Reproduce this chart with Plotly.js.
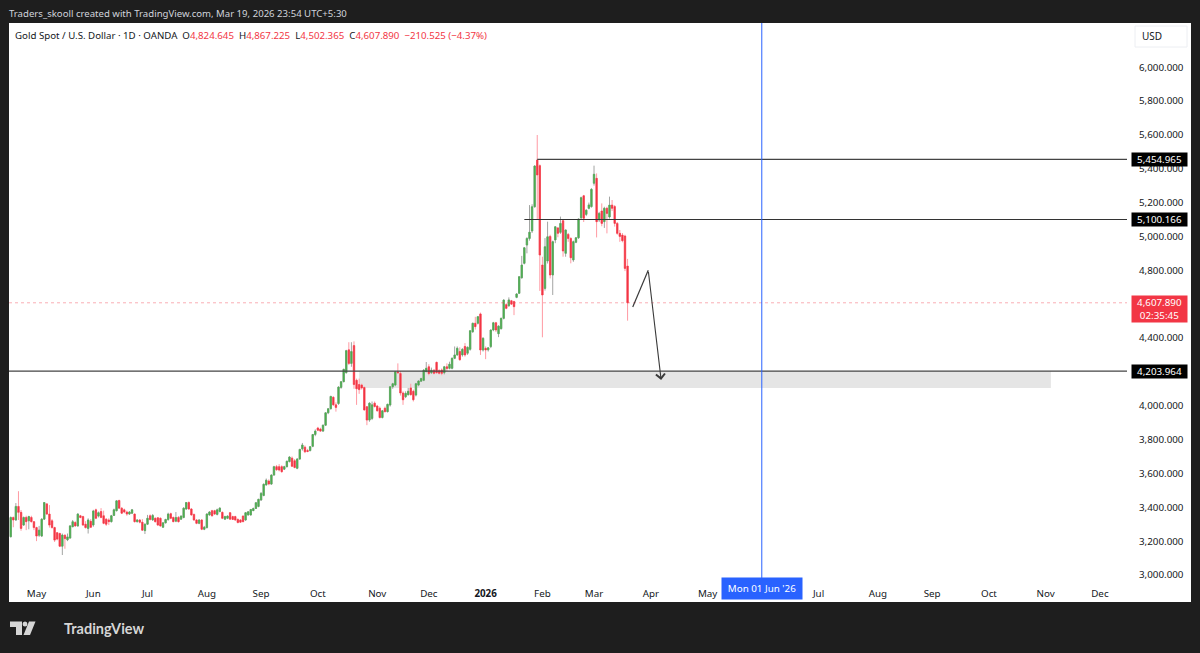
<!DOCTYPE html>
<html>
<head>
<meta charset="utf-8">
<script src="https://cdn.plot.ly/plotly-3.0.1.min.js"></script>
<style>html,body{margin:0;padding:0;background:#1e1e1e}</style>
</head>
<body>
<div id="chart" style="width:1200px;height:653px"></div>
<script>
const lastDate = '2026-03-19';
const holidays = ['2025-12-25'];
const opens = [3226,3340,3325,3405,3370,3295,3340,3320,3340,3315,3280,3235,3230,3330,3420,3360,3320,3280,3250,3245,
3170,3235,3208,3218,3285,3310,3290,3350,3345,3300,3275,3317,3295,3385,3348,3375,3350,3330,3325,3315,
3352,3380,3440,3395,3385,3372,3360,3365,3360,3315,3325,3312,3262,3300,3350,3325,3335,3338,3335,3282,
3308,3328,3362,3340,3318,3340,3330,3340,3390,3428,3390,3358,3325,3305,3325,3270,3280,3355,3380,3380,
3358,3375,3370,3330,3335,3368,3345,3345,3328,3325,3348,3325,3355,3355,3380,3393,3405,3443,3470,3532,
3555,3537,3590,3640,3640,3640,3625,3640,3670,3690,3675,3630,3685,3745,3755,3735,3735,3760,3830,3868,
3862,3850,3885,3958,3982,4050,4005,4013,4108,4142,4195,4330,4250,4355,4150,4125,4122,4108,3994,3915,
3925,4015,3998,3985,3930,3985,3965,4004,4112,4122,4200,4190,4075,4053,4065,4105,4085,4063,4122,4145,
4150,4201,4230,4195,4210,4256,4207,4211,4195,4230,4221,4221,4280,4300,4320,4300,4350,4310,4333,4437,
4487,4487,4542,4329,4339,4330,4349,4447,4490,4425,4455,4516,4597,4590,4620,4615,4640,4664,4756,4841,
4949,4988,5032,5175,5451,5418,4831,4693,4855,5000,4772,4979,5050,5024,5093,4900,5012,4988,4861,4965,
4992,5110,5240,5130,5166,5176,5314,5343,5097,5150,5087,5166,5115,5185,5176,5077,5018,5008,5002,4824.645];
const highs = [3345,3345,3425,3495,3384,3345,3350,3350,3350,3318,3285,3290,3335,3430,3425,3413,3330,3285,3253,3250,
3245,3240,3245,3295,3325,3318,3365,3355,3350,3318,3335,3330,3385,3392,3375,3395,3380,3335,3335,3355,
3392,3440,3445,3400,3392,3380,3378,3390,3362,3330,3330,3330,3305,3355,3358,3360,3340,3340,3340,3312,
3332,3368,3368,3345,3372,3348,3352,3400,3430,3435,3395,3362,3330,3330,3330,3290,3365,3378,3385,3385,
3392,3400,3375,3350,3352,3372,3350,3350,3335,3330,3352,3372,3378,3390,3398,3430,3450,3490,3540,3570,
3565,3595,3645,3650,3655,3648,3645,3675,3702,3700,3685,3690,3745,3780,3765,3745,3762,3832,3860,3875,
3870,3888,3960,3985,4058,4055,4020,4115,4145,4218,4330,4375,4375,4380,4160,4160,4130,4112,3998,4020,
4025,4025,4005,3995,3975,3995,4012,4115,4135,4205,4250,4205,4085,4085,4105,4130,4095,4135,4150,4165,
4215,4258,4245,4225,4215,4260,4215,4220,4235,4250,4260,4285,4350,4350,4345,4340,4370,4350,4445,4490,
4525,4530,4550,4405,4350,4345,4450,4495,4495,4475,4520,4628,4605,4640,4625,4620,4665,4765,4885,4935,
4995,5185,5190,5420,5599,5425,4880,4990,5087,5010,4975,5060,5055,5117,5100,5040,5020,4995,4975,4995,
5105,5235,5245,5160,5200,5285,5418,5372,5145,5195,5175,5175,5235,5215,5185,5085,5038,5020,5010,4867.225];
const lows = [3222,3282,3320,3325,3261,3290,3265,3270,3310,3265,3200,3225,3225,3325,3355,3280,3275,3195,3205,3165,
3118,3155,3200,3215,3283,3285,3285,3335,3290,3275,3245,3278,3285,3330,3340,3335,3300,3290,3295,3310,
3350,3375,3392,3360,3365,3350,3355,3360,3310,3310,3305,3260,3242,3295,3322,3320,3310,3290,3285,3278,
3305,3320,3330,3312,3312,3310,3325,3335,3385,3385,3350,3320,3300,3300,3265,3265,3275,3350,3345,3355,
3352,3370,3330,3325,3330,3325,3325,3320,3305,3308,3312,3320,3350,3350,3378,3390,3400,3438,3465,3528,
3530,3532,3588,3615,3612,3605,3620,3635,3665,3640,3630,3625,3680,3735,3720,3725,3730,3755,3820,3850,
3845,3845,3880,3950,3978,4000,3965,4005,4100,4138,4190,4240,4230,4100,4005,4070,4095,3972,3885,3905,
3915,3990,3965,3925,3925,3960,3960,3995,4100,4115,4190,4060,4005,4045,4060,4060,4025,4055,4115,4140,
4145,4205,4180,4188,4185,4190,4185,4180,4185,4205,4215,4215,4275,4295,4265,4290,4290,4300,4325,4430,
4450,4480,4300,4320,4275,4320,4340,4440,4435,4405,4450,4510,4570,4585,4598,4535,4635,4660,4750,4835,
4900,4975,5020,5170,5097,4678,4404,4680,4840,4752,4654,4960,4995,5015,4880,4880,4968,4841,4850,4960,
4985,5100,5085,5120,5160,5170,5300,4994,5085,5060,5050,5018,5105,5150,5058,5010,4968,4965,4795,4502.365];
const closes = [3340,3325,3405,3370,3275,3340,3315,3345,3315,3280,3230,3265,3330,3428,3360,3295,3280,3206,3212,3170,
3236,3215,3225,3290,3315,3290,3360,3340,3295,3280,3325,3282,3378,3335,3368,3340,3305,3300,3315,3350,
3385,3438,3395,3365,3372,3360,3372,3385,3315,3325,3312,3265,3300,3335,3328,3352,3315,3295,3290,3308,
3328,3360,3335,3315,3340,3315,3348,3395,3428,3390,3355,3325,3305,3325,3270,3282,3360,3372,3350,3360,
3385,3395,3335,3345,3348,3330,3328,3325,3310,3312,3315,3368,3373,3387,3393,3427,3447,3482,3536,3560,
3538,3590,3640,3622,3620,3610,3640,3672,3697,3642,3635,3685,3742,3768,3728,3730,3758,3830,3850,3855,
3850,3885,3958,3982,4055,4005,3990,4110,4142,4215,4325,4250,4320,4125,4100,4095,4105,3975,3915,4015,
4005,3995,3970,3930,3970,3965,4008,4112,4130,4200,4195,4075,4035,4073,4085,4065,4035,4130,4146,4160,
4210,4221,4190,4210,4191,4195,4191,4191,4230,4220,4245,4280,4300,4339,4272,4333,4300,4345,4443,4487,
4467,4526,4329,4398,4329,4342,4447,4490,4447,4470,4516,4624,4575,4625,4600,4585,4660,4762,4831,4933,
4988,5025,5175,5416,5363,4890,4654,4939,4998,4772,4969,5057,5018,5077,4914,5038,4988,4874,4969,4992,
5103,5229,5107,5155,5186,5278,5367,5087,5136,5077,5166,5136,5185,5166,5077,5018,5000,4975,4811,4607.89];
const monthTicks = ['2025-05-01','2025-06-02','2025-07-01','2025-08-01','2025-09-01','2025-10-01','2025-11-03','2025-12-01','2026-01-01','2026-02-02','2026-03-02','2026-04-01','2026-05-01','2026-07-01','2026-08-03','2026-09-01','2026-10-01','2026-11-02','2026-12-01'];
const monthLabels = ['May','Jun','Jul','Aug','Sep','Oct','Nov','Dec','<b>2026</b>','Feb','Mar','Apr','May','Jul','Aug','Sep','Oct','Nov','Dec'];
const priceTicks = [3000,3200,3400,3600,3800,4000,4400,4800,5000,5200,5400,5600,5800,6000];
const levelHigh = 5454.965, levelMid = 5100.166, levelLow = 4203.964, lastPrice = 4607.89;
const cursorDate = '2026-06-01';

// trading days, counted back from the last bar (weekends and the Christmas holiday removed)
const dates = [];
for (let d = new Date(lastDate + 'T00:00:00Z'); dates.length < closes.length; d.setUTCDate(d.getUTCDate() - 1)) {
  const iso = d.toISOString().slice(0, 10), wd = d.getUTCDay();
  if (wd !== 0 && wd !== 6 && !holidays.includes(iso)) dates.unshift(iso);
}

const W = 1200, H = 653, L = 9, R = 1127, T = 23, B = 602;
const px = x => (x - L) / (R - L);
const py = y => 1 - (y - T) / (B - T);
const GREEN = '#4caf50', RED = '#f23645', BLUE = '#2962ff', INK = '#131722';

function wicks() {
  return { type:'candlestick', x:dates, open:opens, high:highs, low:lows, close:closes, whiskerwidth:0,
    increasing:{line:{color:'#a3a5a3',width:1},fillcolor:'#a3a5a3'},
    decreasing:{line:{color:'#ff9aa3',width:1},fillcolor:'#ff9aa3'}, hoverinfo:'skip', showlegend:false };
}
function bodies() {
  const top = opens.map((o,i)=>Math.max(o,closes[i])), bot = opens.map((o,i)=>Math.min(o,closes[i]));
  return { type:'candlestick', x:dates, open:opens, high:top, low:bot, close:closes, whiskerwidth:0,
    increasing:{line:{color:GREEN,width:0.5},fillcolor:GREEN},
    decreasing:{line:{color:RED,width:0.5},fillcolor:RED}, showlegend:false };
}

function paperRect(x0,y0,x1,y1,fill,extra) {
  return Object.assign({type:'rect',xref:'paper',yref:'paper',x0:px(x0),x1:px(x1),y0:py(y0),y1:py(y1),fillcolor:fill,line:{width:0},layer:'below'},extra||{});
}
function paperPath(pts,fill) {
  const d = pts.map((p,i)=>(i?'L':'M')+px(p[0])+','+py(p[1])).join(' ')+' Z';
  return {type:'path',xref:'paper',yref:'paper',path:d,fillcolor:fill,line:{width:0},layer:'below'};
}
function hline(x0,x1,y,color,width,dash) {
  return {type:'line',xref:'x',yref:'y',x0:x0,x1:x1,y0:y,y1:y,line:{color:color,width:width,dash:dash||'solid'}};
}
function priceTag(y,text) {
  return {xref:'paper',yref:'y',x:px(1159.5),y:y,text:text,showarrow:false,xanchor:'center',yanchor:'middle',
    bgcolor:'#000000',width:55,height:13,borderpad:0,font:{family:FONT,size:9.8,color:'#ffffff'}};
}
const FONT = '"Noto Sans", "DejaVu Sans", sans-serif';
const rightEdge = '2026-12-15 12:00', leftEdge = '2025-04-16 08:00';
const r = s => '<span style="color:'+RED+'">'+s+'</span>';
const gap = '&nbsp;&nbsp;';

const shapes = [
  paperRect(9,23,1191,602,'#ffffff'),
  paperRect(1135,26,1187,47,'#ffffff',{line:{color:'#eceef2',width:1}}),
  paperPath([[10,621.5],[22,621.5],[22,635],[16,635],[16,627],[10,627]],'#d6d6d6'),
  {type:'circle',xref:'paper',yref:'paper',x0:px(22.6),x1:px(27.4),y0:py(621.5),y1:py(626.5),fillcolor:'#d6d6d6',line:{width:0},layer:'below'},
  paperPath([[29,621.5],[35.5,621.5],[30,635],[23.5,635]],'#d6d6d6'),
  {type:'rect',xref:'x',yref:'y',x0:'2025-10-23',x1:'2026-11-04',y0:4105,y1:levelLow,fillcolor:'#e5e5e5',line:{width:0},layer:'below'},
  hline(leftEdge,rightEdge,lastPrice,'rgba(242,54,69,0.4)',1,'dot'),
  hline(dates[204],rightEdge,levelHigh,'#444444',1.2),
  hline(dates[199],rightEdge,levelMid,'#333333',1.1),
  hline(leftEdge,rightEdge,levelLow,'#444444',1.2),
  {type:'line',xref:'x',yref:'paper',x0:cursorDate,x1:cursorDate,y0:py(578),y1:1,line:{color:BLUE,width:1}},
  {type:'line',xref:'x',yref:'y',x0:'2026-03-23',x1:'2026-03-31',y0:4583,y1:4800,line:{color:'#3a3a3a',width:1.2}}
];

const annotations = [
  {xref:'paper',yref:'paper',x:px(7),y:py(13),text:'Traders_skooll created with TradingView.com, Mar 19, 2026 23:54 UTC+5:30',showarrow:false,xanchor:'left',yanchor:'middle',font:{family:FONT,size:9.6,color:'#d1d4dc'}},
  {xref:'paper',yref:'paper',x:px(13),y:py(35.5),showarrow:false,xanchor:'left',yanchor:'middle',font:{family:FONT,size:9.7,color:INK},
    text:'Gold Spot / U.S. Dollar · 1D · OANDA'+gap+'O'+r('4,824.645')+gap+'H'+r('4,867.225')+gap+'L'+r('4,502.365')+gap+'C'+r('4,607.890')+gap+r('−210.525 (−4.37%)')},
  {xref:'paper',yref:'paper',x:px(1152),y:py(36.5),text:'USD',showarrow:false,xanchor:'center',yanchor:'middle',font:{family:FONT,size:10,color:INK}},
  priceTag(levelHigh,'5,454.965'),
  priceTag(levelMid,'5,100.166'),
  priceTag(levelLow,'4,203.964'),
  {xref:'paper',yref:'y',x:px(1159.5),y:4570,text:'4,607.890<br>02:35:45',showarrow:false,xanchor:'center',yanchor:'middle',bgcolor:RED,width:55,height:26,borderpad:0,font:{family:FONT,size:9.8,color:'#ffffff'}},
  {xref:'x',yref:'paper',x:cursorDate,y:py(588.5),text:"Mon 01 Jun '26",showarrow:false,xanchor:'center',yanchor:'middle',bgcolor:BLUE,width:80,height:21,borderpad:0,font:{family:FONT,size:9.8,color:'#ffffff'}},
  {xref:'paper',yref:'paper',x:px(62),y:py(628),text:'<b>TradingView</b>',showarrow:false,xanchor:'left',yanchor:'middle',font:{family:'Lato, "Noto Sans", sans-serif',size:14.5,color:'#d6d6d6'}},
  {xref:'x',yref:'y',axref:'x',ayref:'y',x:'2026-04-07',y:4152,ax:'2026-03-31',ay:4800,text:'',showarrow:true,arrowhead:4,arrowsize:1.6,arrowwidth:1.1,arrowcolor:'#3a3a3a'}
];

const layout = {
  width:W,height:H,autosize:false,
  margin:{l:L,r:W-R,t:T,b:H-B,pad:0},
  paper_bgcolor:'#1e1e1e',plot_bgcolor:'#ffffff',
  boxgap:0.25,boxmode:'overlay',showlegend:false,dragmode:false,
  xaxis:{type:'date',range:[leftEdge,rightEdge],rangeslider:{visible:false},
    rangebreaks:[{bounds:['sat','mon']},{values:holidays}],
    tickmode:'array',tickvals:monthTicks,ticktext:monthLabels,ticklabelposition:'inside',ticks:'',
    tickfont:{family:FONT,size:9.8,color:INK},showgrid:false,zeroline:false,showline:false},
  yaxis:{side:'right',range:[2840.5,6260.6],tickmode:'array',tickvals:priceTicks,tickformat:',.3f',ticks:'',
    ticklabelstandoff:11,tickfont:{family:FONT,size:9.8,color:INK},showgrid:false,zeroline:false,showline:false},
  shapes:shapes,annotations:annotations
};
Plotly.newPlot('chart',[wicks(),bodies()],layout,{displayModeBar:false,staticPlot:true});
</script>
</body>
</html>
